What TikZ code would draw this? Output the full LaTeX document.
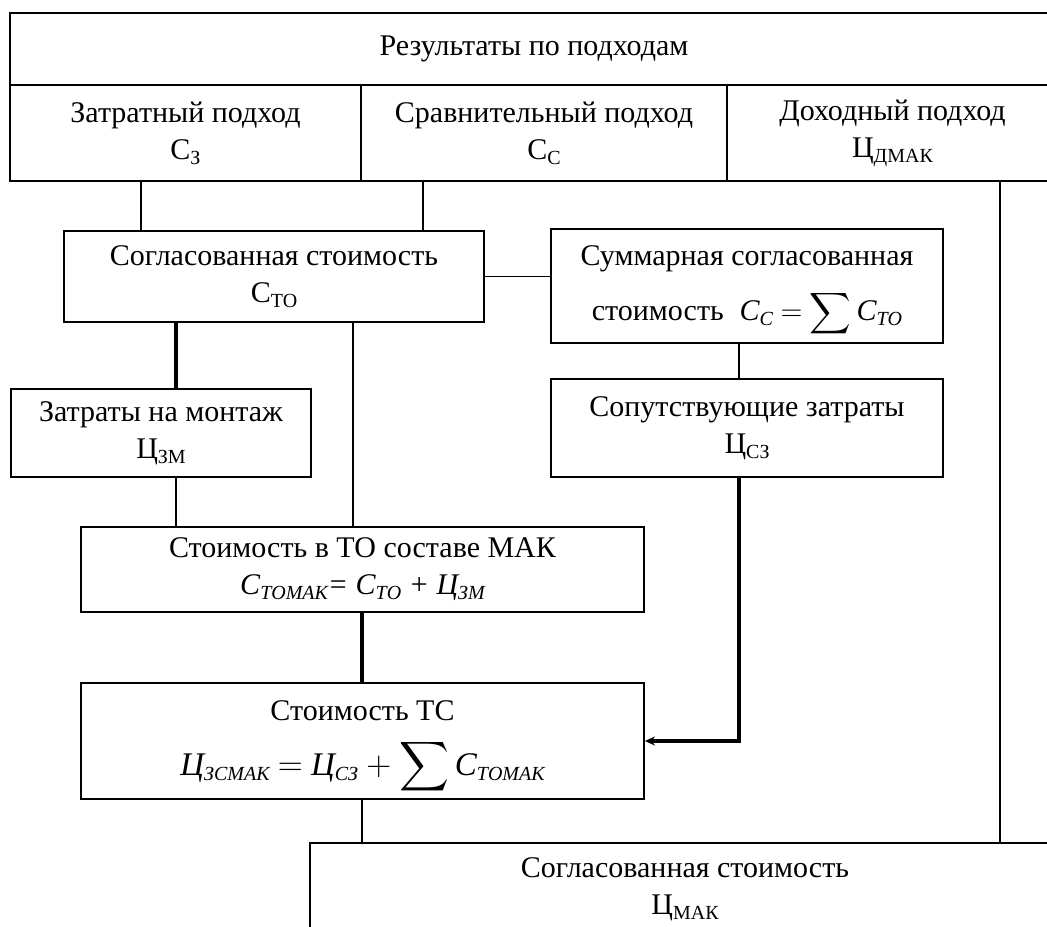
\documentclass[tikz,border=0pt]{standalone}
\usepackage{amsmath}
\usepackage{fontspec}
\setmainfont{Liberation Serif}
\usetikzlibrary{arrows.meta}
\newcommand{\nizh}[1]{\raisebox{-0.35ex}{\fontsize{10}{10}\selectfont #1}}
\newcommand{\summa}{\smash{$\displaystyle\sum$}}
\tikzset{blok/.style={draw, line width=0.9pt, align=center, inner sep=0pt,
    font=\fontsize{15}{18.5}\selectfont},
  tolst/.style={line width=1.6pt}}

\begin{document}
\begin{tikzpicture}[x=0.5pt, y=-0.5pt, line width=0.9pt]
\clip (0,0) rectangle (1047,926);

% table of approaches
\node[blok, minimum width=524pt, minimum height=36pt] (rez) at (534,49) {Результаты по подходам};
\node[blok, minimum width=175.5pt, minimum height=48pt] (zatr) at (185.5,133) {Затратный подход\\С\nizh{З}};
\node[blok, minimum width=183pt, minimum height=48pt] (sravn) at (544,133) {Сравнительный подход\\С\nizh{С}};
\node[blok, minimum width=165.5pt, minimum height=48pt] (dohod) at (892.5,133) {Доходный подход\\Ц\nizh{ДМАК}};

\node[blok, minimum width=210pt, minimum height=45.5pt] (sto) at (274,276.5) {Согласованная стоимость\\С\nizh{ТО}};
\node[blok, minimum width=196pt, minimum height=57pt] (summ) at (747,286)
  {Суммарная согласованная\\[9pt]стоимость\; {\itshape С\nizh{С}} $=$ \summa\,{\itshape С\nizh{ТО}}};
\node[blok, minimum width=196pt, minimum height=49pt] (soput) at (747,428) {Сопутствующие затраты\\Ц\nizh{СЗ}};
\node[blok, minimum width=150pt, minimum height=44pt] (montazh) at (161,433) {Затраты на монтаж\\Ц\nizh{ЗМ}};
\node[blok, minimum width=281.5pt, minimum height=42.5pt] (tomak) at (362.5,569.5)
  {Стоимость в ТО составе МАК\\{\itshape С\nizh{ТОМАК}= С\nizh{ТО} + Ц\nizh{ЗМ}}};
\node[blok, minimum width=281.5pt, minimum height=58pt] (ts) at (362.5,741)
  {Стоимость ТС\\[9pt]{\fontsize{16.5}{20}\selectfont\itshape Ц\nizh{ЗСМАК} $=$ Ц\nizh{СЗ} $+$ \summa\,С\nizh{ТОМАК}}};
\node[blok, minimum width=375pt, minimum height=46pt] (itog) at (685,889) {Согласованная стоимость\\Ц\nizh{МАК}};

\coordinate (x1) at (141,0);
\coordinate (x2) at (423,0);
\coordinate (x3) at (176,0);
\coordinate (x4) at (353,0);
\coordinate (x5) at (739,0);
\coordinate (x6) at (1000,0);
\coordinate (x7) at (362,0);

\draw (zatr.south -| x1) -- (sto.north -| x1);
\draw (sravn.south -| x2) -- (sto.north -| x2);
\draw (sto.east) -- (summ.west |- sto.east);
\draw (summ.south -| x5) -- (soput.north -| x5);
\draw[tolst] (sto.south -| x3) -- (montazh.north -| x3);
\draw (montazh.south -| x3) -- (tomak.north -| x3);
\draw (sto.south -| x4) -- (tomak.north -| x4);
\draw[tolst] (tomak.south -| x7) -- (ts.north -| x7);
\draw[tolst, -{Stealth[length=5pt, width=4.5pt]}] (soput.south -| x5) |- (ts.east);
\draw (ts.south -| x7) -- (itog.north -| x7);
\draw (dohod.south -| x6) -- (itog.north -| x6);

\end{tikzpicture}
\end{document}
